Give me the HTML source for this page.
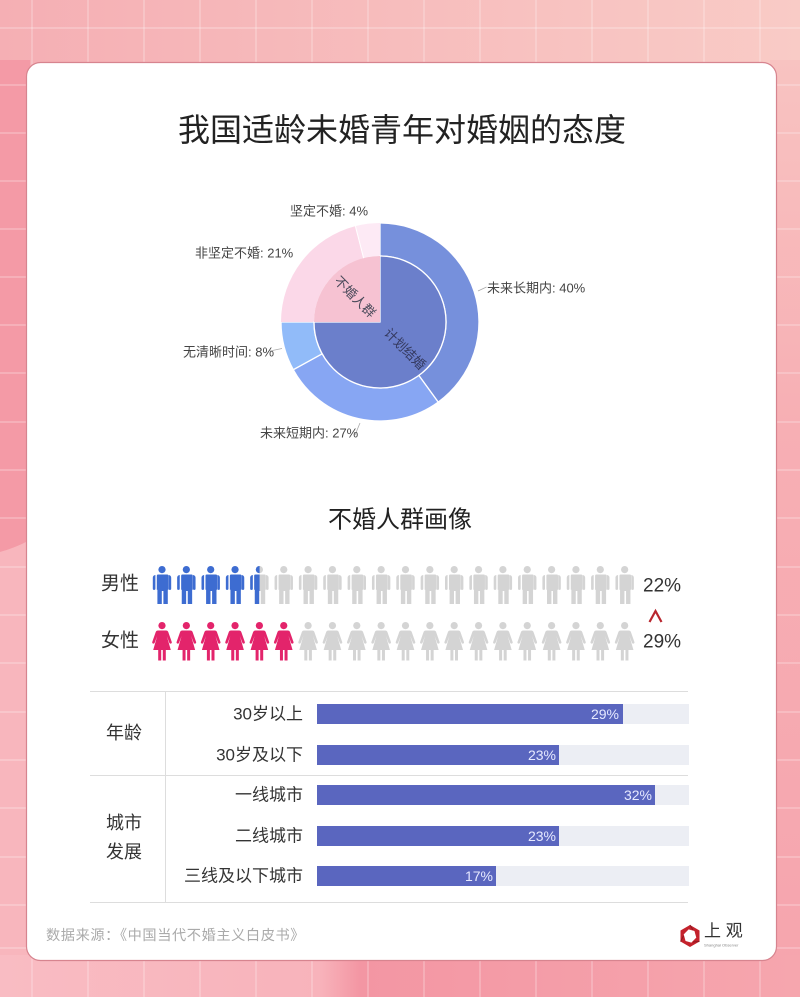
<!DOCTYPE html>
<html>
<head>
<meta charset="utf-8">
<style>
html,body{margin:0;padding:0;}
body{width:800px;height:997px;overflow:hidden;}
svg{display:block;}
text{font-family:"Liberation Sans","Noto Sans CJK SC",sans-serif;}
</style>
</head>
<body>
<svg width="800" height="997" viewBox="0 0 800 997" xmlns="http://www.w3.org/2000/svg">
<defs>
  <linearGradient id="bgTop" x1="0" y1="0" x2="1" y2="0">
    <stop offset="0" stop-color="#f5afb4"/>
    <stop offset="0.5" stop-color="#f7bdbd"/>
    <stop offset="1" stop-color="#f9cbc6"/>
  </linearGradient>
  <linearGradient id="bgRight" x1="0" y1="0" x2="0" y2="1">
    <stop offset="0" stop-color="#f8c3c1"/>
    <stop offset="0.4" stop-color="#f7afb4"/>
    <stop offset="1" stop-color="#f6a5ae"/>
  </linearGradient>
  <linearGradient id="bgBottom" x1="0" y1="0" x2="1" y2="0">
    <stop offset="0" stop-color="#f9bcc3"/>
    <stop offset="0.4" stop-color="#f8b3bb"/>
    <stop offset="0.45" stop-color="#f396a3"/>
    <stop offset="1" stop-color="#f6a6ae"/>
  </linearGradient>
  <g id="man">
    <circle cx="0" cy="3.6" r="3.6"/>
    <path d="M-5.2,8.5 h10.4 a1.2,1.2 0 0 1 1.2,1.2 v14 h-0.6 v14.3 h-4.4 v-13 h-1.6 v13 h-4.4 v-14.3 h-0.6 v-14 a1.2,1.2 0 0 1 1.2,-1.2 z"/>
    <path d="M6.6,9 a2.6,2.6 0 0 1 2.6,2.6 v11 a1.3,1.3 0 0 1 -2.6,0 z"/>
    <path d="M-6.6,9 a2.6,2.6 0 0 0 -2.6,2.6 v11 a1.3,1.3 0 0 0 2.6,0 z"/>
  </g>
  <g id="woman">
    <circle cx="0" cy="3.6" r="3.6"/>
    <path d="M-4,8.5 h8 a2.5,2.5 0 0 1 2.3,1.6 l3.5,10 a1.3,1.3 0 0 1 -2.4,0.9 l-2.6,-7 l4,14 h-5 v10.5 h-3 v-10.5 h-1.6 v10.5 h-3 v-10.5 h-5 l4,-14 l-2.6,7 a1.3,1.3 0 0 1 -2.4,-0.9 l3.5,-10 a2.5,2.5 0 0 1 2.3,-1.6 z"/>
  </g>
  <clipPath id="halfClip"><rect x="240" y="560" width="19.6" height="50"/></clipPath>
</defs>

<!-- background -->
<rect x="0" y="0" width="800" height="997" fill="#f6aab2"/>
<rect x="0" y="0" width="800" height="70" fill="url(#bgTop)"/>
<rect x="770" y="60" width="30" height="910" fill="url(#bgRight)"/>
<path d="M0,60 H30 V540 Q15,548 0,552 Z" fill="#f49aa6"/>
<path d="M0,552 Q15,548 30,540 V960 H0 Z" fill="#f8b6bd"/>
<rect x="0" y="955" width="800" height="42" fill="url(#bgBottom)"/>
<g stroke="#ffffff" stroke-opacity="0.35" stroke-width="1.2">
  <line x1="32" y1="0" x2="32" y2="997"/>
  <line x1="88" y1="0" x2="88" y2="997"/>
  <line x1="144" y1="0" x2="144" y2="997"/>
  <line x1="200" y1="0" x2="200" y2="997"/>
  <line x1="256" y1="0" x2="256" y2="997"/>
  <line x1="312" y1="0" x2="312" y2="997"/>
  <line x1="368" y1="0" x2="368" y2="997"/>
  <line x1="424" y1="0" x2="424" y2="997"/>
  <line x1="480" y1="0" x2="480" y2="997"/>
  <line x1="536" y1="0" x2="536" y2="997"/>
  <line x1="592" y1="0" x2="592" y2="997"/>
  <line x1="648" y1="0" x2="648" y2="997"/>
  <line x1="704" y1="0" x2="704" y2="997"/>
  <line x1="760" y1="0" x2="760" y2="997"/>
  <line x1="0" y1="28" x2="800" y2="28"/>
  <line x1="0" y1="85" x2="800" y2="85"/>
  <line x1="0" y1="133" x2="800" y2="133"/>
  <line x1="0" y1="181" x2="800" y2="181"/>
  <line x1="0" y1="229" x2="800" y2="229"/>
  <line x1="0" y1="277" x2="800" y2="277"/>
  <line x1="0" y1="325" x2="800" y2="325"/>
  <line x1="0" y1="373" x2="800" y2="373"/>
  <line x1="0" y1="422" x2="800" y2="422"/>
  <line x1="0" y1="470" x2="800" y2="470"/>
  <line x1="0" y1="518" x2="800" y2="518"/>
  <line x1="0" y1="567" x2="800" y2="567"/>
  <line x1="0" y1="615" x2="800" y2="615"/>
  <line x1="0" y1="663" x2="800" y2="663"/>
  <line x1="0" y1="712" x2="800" y2="712"/>
  <line x1="0" y1="760" x2="800" y2="760"/>
  <line x1="0" y1="808" x2="800" y2="808"/>
  <line x1="0" y1="857" x2="800" y2="857"/>
  <line x1="0" y1="905" x2="800" y2="905"/>
  <line x1="0" y1="948" x2="800" y2="948"/>
</g>

<!-- card -->
<rect x="26.5" y="62.5" width="750" height="898" rx="14" ry="14" fill="#ffffff" stroke="#d7848f" stroke-width="1.2"/>

<!-- title -->
<text x="402" y="130" font-size="32" fill="#222" text-anchor="middle" dominant-baseline="central">我国适龄未婚青年对婚姻的态度</text>

<!-- pie chart -->
<g stroke="#ffffff" stroke-width="1.3">
  <path d="M380,223 A99,99 0 0 1 438.19,402.09 L418.79,375.39 A66,66 0 0 0 380,256 Z" fill="#7690dc"/>
  <path d="M438.19,402.09 A99,99 0 0 1 293.25,369.70 L322.16,353.80 A66,66 0 0 0 418.79,375.39 Z" fill="#87a6f3"/>
  <path d="M293.25,369.70 A99,99 0 0 1 281,322 L314,322 A66,66 0 0 0 322.16,353.80 Z" fill="#91bbf9"/>
  <path d="M281,322 A99,99 0 0 1 355.38,226.11 L363.59,258.07 A66,66 0 0 0 314,322 Z" fill="#fbd8e8" stroke="none"/>
  <path d="M355.38,226.11 A99,99 0 0 1 380,223 L380,256 A66,66 0 0 0 363.59,258.07 Z" fill="#fdeaf5" stroke="none"/>
  <path d="M380,322 L380,256 A66,66 0 1 1 314,322 Z" fill="#6b7fcb"/>
  <path d="M380,322 L314,322 A66,66 0 0 1 380,256 Z" fill="#f6c2d2" stroke="none"/>
</g>
<line x1="355.38" y1="226.11" x2="363.59" y2="258.07" stroke="#ffffff" stroke-width="1"/>
<text x="355" y="297" font-size="13" fill="#4a4a5a" text-anchor="middle" dominant-baseline="central" transform="rotate(45 355 297)">不婚人群</text>
<text x="405" y="349" font-size="13" fill="#34395e" text-anchor="middle" dominant-baseline="central" transform="rotate(45 405 349)">计划结婚</text>

<!-- leader lines -->
<g stroke="#aaaaaa" stroke-width="0.8" fill="none">
  <polyline points="478,291 486.5,287"/>
  <polyline points="270,351 282,348.5"/>
  <polyline points="355,435 360,423"/>
</g>
<g font-size="13" fill="#444">
  <text x="290" y="211" dominant-baseline="central">坚定不婚: 4%</text>
  <text x="195" y="253" dominant-baseline="central">非坚定不婚: 21%</text>
  <text x="487" y="288" dominant-baseline="central">未来长期内: 40%</text>
  <text x="183" y="352" dominant-baseline="central">无清晰时间: 8%</text>
  <text x="260" y="433" dominant-baseline="central">未来短期内: 27%</text>
</g>

<!-- section 2 title -->
<text x="400" y="520" font-size="24" fill="#222" text-anchor="middle" dominant-baseline="central">不婚人群画像</text>

<!-- people rows -->
<text x="120" y="584" font-size="19" fill="#333" text-anchor="middle" dominant-baseline="central">男性</text>
<text x="120" y="641" font-size="19" fill="#333" text-anchor="middle" dominant-baseline="central">女性</text>

<g fill="#3d6cd1">
  <use href="#man" x="162" y="566"/>
  <use href="#man" x="186.35" y="566"/>
  <use href="#man" x="210.7" y="566"/>
  <use href="#man" x="235.05" y="566"/>
</g>
<g fill="#d4d4d4">
  <use href="#man" x="259.4" y="566"/>
  <use href="#man" x="283.75" y="566"/>
  <use href="#man" x="308.1" y="566"/>
  <use href="#man" x="332.45" y="566"/>
  <use href="#man" x="356.8" y="566"/>
  <use href="#man" x="381.15" y="566"/>
  <use href="#man" x="405.5" y="566"/>
  <use href="#man" x="429.85" y="566"/>
  <use href="#man" x="454.2" y="566"/>
  <use href="#man" x="478.55" y="566"/>
  <use href="#man" x="502.9" y="566"/>
  <use href="#man" x="527.25" y="566"/>
  <use href="#man" x="551.6" y="566"/>
  <use href="#man" x="575.95" y="566"/>
  <use href="#man" x="600.3" y="566"/>
  <use href="#man" x="624.65" y="566"/>
</g>
<g fill="#3d6cd1" clip-path="url(#halfClip)">
  <use href="#man" x="259.4" y="566"/>
</g>

<g fill="#e3246b">
  <use href="#woman" x="162" y="622"/>
  <use href="#woman" x="186.35" y="622"/>
  <use href="#woman" x="210.7" y="622"/>
  <use href="#woman" x="235.05" y="622"/>
  <use href="#woman" x="259.4" y="622"/>
  <use href="#woman" x="283.75" y="622"/>
</g>
<g fill="#d4d4d4">
  <use href="#woman" x="308.1" y="622"/>
  <use href="#woman" x="332.45" y="622"/>
  <use href="#woman" x="356.8" y="622"/>
  <use href="#woman" x="381.15" y="622"/>
  <use href="#woman" x="405.5" y="622"/>
  <use href="#woman" x="429.85" y="622"/>
  <use href="#woman" x="454.2" y="622"/>
  <use href="#woman" x="478.55" y="622"/>
  <use href="#woman" x="502.9" y="622"/>
  <use href="#woman" x="527.25" y="622"/>
  <use href="#woman" x="551.6" y="622"/>
  <use href="#woman" x="575.95" y="622"/>
  <use href="#woman" x="600.3" y="622"/>
  <use href="#woman" x="624.65" y="622"/>
</g>

<text x="643" y="586" font-size="19" fill="#333" dominant-baseline="central">22%</text>
<polyline points="649.5,622 655.5,611 661.5,622" fill="none" stroke="#b8262e" stroke-width="2.2"/>
<text x="643" y="642" font-size="19" fill="#333" dominant-baseline="central">29%</text>

<!-- table -->
<g stroke="#dddddd" stroke-width="1">
  <line x1="90" y1="691.5" x2="688" y2="691.5"/>
  <line x1="90" y1="775.5" x2="688" y2="775.5"/>
  <line x1="90" y1="902.5" x2="688" y2="902.5"/>
  <line x1="165.5" y1="691" x2="165.5" y2="902"/>
</g>
<g font-size="18" fill="#333" text-anchor="middle" dominant-baseline="central">
  <text x="124" y="733">年龄</text>
  <text x="124" y="823">城市</text>
  <text x="124" y="852">发展</text>
</g>
<g font-size="17" fill="#333" text-anchor="end" dominant-baseline="central">
  <text x="303" y="714">30岁以上</text>
  <text x="303" y="755">30岁及以下</text>
  <text x="303" y="795">一线城市</text>
  <text x="303" y="836">二线城市</text>
  <text x="303" y="876">三线及以下城市</text>
</g>
<g fill="#eceef4">
  <rect x="317" y="704" width="372" height="20"/>
  <rect x="317" y="745" width="372" height="20"/>
  <rect x="317" y="785" width="372" height="20"/>
  <rect x="317" y="826" width="372" height="20"/>
  <rect x="317" y="866" width="372" height="20"/>
</g>
<g fill="#5a66bf">
  <rect x="317" y="704" width="306" height="20"/>
  <rect x="317" y="745" width="242" height="20"/>
  <rect x="317" y="785" width="338" height="20"/>
  <rect x="317" y="826" width="242" height="20"/>
  <rect x="317" y="866" width="179" height="20"/>
</g>
<g font-size="14" fill="#e6e9ff" text-anchor="end" dominant-baseline="central">
  <text x="619" y="714">29%</text>
  <text x="556" y="755">23%</text>
  <text x="652" y="795">32%</text>
  <text x="556" y="836">23%</text>
  <text x="493" y="876">17%</text>
</g>

<!-- footer -->
<text x="46" y="936" font-size="14.2" letter-spacing="0.6" fill="#aaaaaa" dominant-baseline="central">数据来源：《中国当代不婚主义白皮书》</text>
<g transform="translate(690,936)">
  <polygon points="0,-11 9.5,-5.5 9.5,5.5 0,11 -9.5,5.5 -9.5,-5.5" fill="#c4222c"/>
  <polygon points="3,-6 6.5,0 3,6 -3,6 -6.5,0 -3,-6" fill="#ffffff" transform="rotate(15)"/>
  <path d="M0,-11 L3,-6 M9.5,5.5 L3,6 M-9.5,5.5 L-6.5,0" stroke="#8e1820" stroke-width="1" fill="none"/>
</g>
<text x="704" y="931" font-size="17" fill="#333" font-family="'Noto Serif CJK SC','Liberation Serif',serif" dominant-baseline="central">上 观</text>
<text x="704" y="945" font-size="4" fill="#888" dominant-baseline="central">Shanghai Observer</text>
</svg>
</body>
</html>
